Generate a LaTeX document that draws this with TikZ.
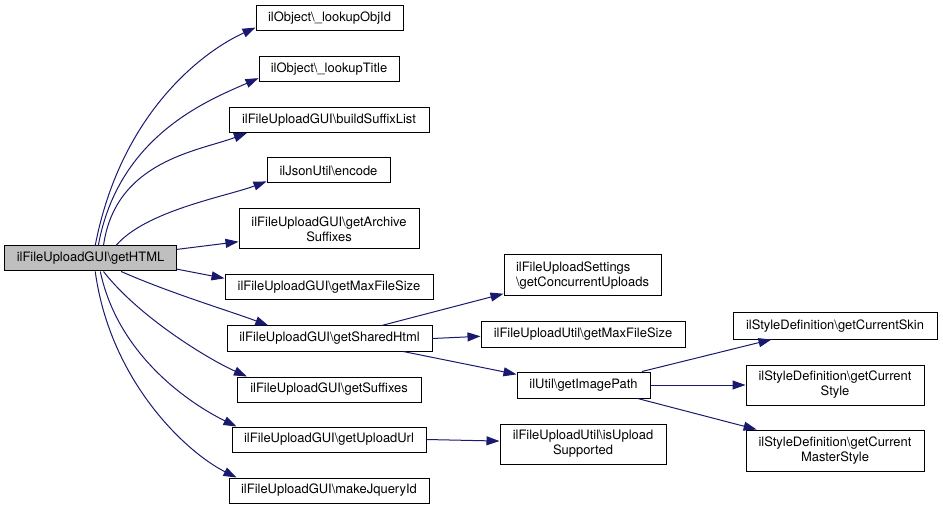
\documentclass[tikz,border=0pt]{standalone}
\usepackage{fontspec}
\setmainfont{TeX Gyre Heros}
\usetikzlibrary{arrows.meta}
\definecolor{edgeblue}{RGB}{25,25,112}
\definecolor{boxgray}{RGB}{191,191,191}
\newcommand{\bs}{\textbackslash}

\begin{document}
\begin{tikzpicture}[x=1bp,y=-1bp,
  fn/.style={draw=black,line width=1bp,rectangle,inner sep=0pt,
    minimum height=25bp,align=center,font=\fontsize{13}{15}\selectfont},
  fn2/.style={fn,minimum height=40bp},
  call/.style={draw=edgeblue,line width=1bp,-{Triangle[length=13bp,width=9bp]}}]
\useasboundingbox (0,0) rectangle (943,509);

% caller
\node [fn,fill=boxgray,minimum width=171bp] (h) at (90.5,258.5) {ilFileUploadGUI\bs getHTML};

% first level
\node [fn,minimum width=147bp] (oid) at (329.5,18.5) {ilObject\bs\_lookupObjId};
\node [fn,minimum width=140bp] (otit) at (329,69.5) {ilObject\bs\_lookupTitle};
\node [fn,minimum width=200bp] (bsl) at (329,120) {ilFileUploadGUI\bs buildSuffixList};
\node [fn,minimum width=123bp] (enc) at (328.5,170.5) {ilJsonUtil\bs encode};
\node [fn2,minimum width=180bp] (arc) at (329,229) {ilFileUploadGUI\bs getArchive\\Suffixes};
\node [fn,minimum width=208bp] (mfs) at (329,287.5) {ilFileUploadGUI\bs getMaxFileSize};
\node [fn,minimum width=205bp] (sh) at (329.5,338.5) {ilFileUploadGUI\bs getSharedHtml};
\node [fn,minimum width=184bp] (suf) at (329,389.5) {ilFileUploadGUI\bs getSuffixes};
\node [fn,minimum width=194bp] (url) at (329,439.5) {ilFileUploadGUI\bs getUploadUrl};
\node [fn,minimum width=200bp] (jq) at (329,490.5) {ilFileUploadGUI\bs makeJqueryId};

% second level
\node [fn,minimum width=157bp,minimum height=41bp,align=left] (cu) at (582.5,275.5) {ilFileUploadSettings\\\bs getConcurrentUploads};
\node [fn,minimum width=204bp] (umfs) at (583,334.5) {ilFileUploadUtil\bs getMaxFileSize};
\node [fn,minimum width=133bp,minimum height=26bp] (img) at (583.5,385) {ilUtil\bs getImagePath};
\node [fn2,minimum width=166bp] (sup) at (583,444) {ilFileUploadUtil\bs isUpload\\Supported};

% third level
\node [fn,minimum width=204bp,minimum height=26bp] (skin) at (835,326) {ilStyleDefinition\bs getCurrentSkin};
\node [fn2,minimum width=178bp] (sty) at (835,385) {ilStyleDefinition\bs getCurrent\\Style};
\node [fn,minimum width=178bp,minimum height=41bp] (mst) at (835,450.5) {ilStyleDefinition\bs getCurrent\\MasterStyle};

% calls from getHTML
\draw [call] (h.70) .. controls +(25,-130) and +(-55,25) .. (oid.187);
\draw [call] (h.59) .. controls +(20,-110) and +(-50,22) .. (otit.187);
\draw [call] (h.45) .. controls +(12,-85) and +(-48,18) .. (bsl.189);
\draw [call] (h.27) .. controls +(30,-35) and +(-40,15) .. (enc.190);
\draw [call] (h.6) -- (arc.188);
\draw [call] (h.-7) -- (mfs.175);
\draw [call] (h.-23) .. controls +(50,22) and +(-40,-15) .. (sh.168);
\draw [call] (h.-45) .. controls +(35,45) and +(-40,-18) .. (suf.171);
\draw [call] (h.-53) .. controls +(18,85) and +(-45,-22) .. (url.172);
\draw [call] (h.-70) .. controls +(15,110) and +(-50,-25) .. (jq.172);

% calls further down
\draw [call] (sh.14) -- (cu.193);
\draw [call] (sh.east) -- (umfs.181);
\draw [call] (sh.-10) -- (img.171);
\draw [call] (url.east) -- (sup.178);
\draw [call] (img.13) -- (skin.192);
\draw [call] (img.east) -- (sty.west);
\draw [call] (img.-14) -- (mst.165);
\end{tikzpicture}
\end{document}
